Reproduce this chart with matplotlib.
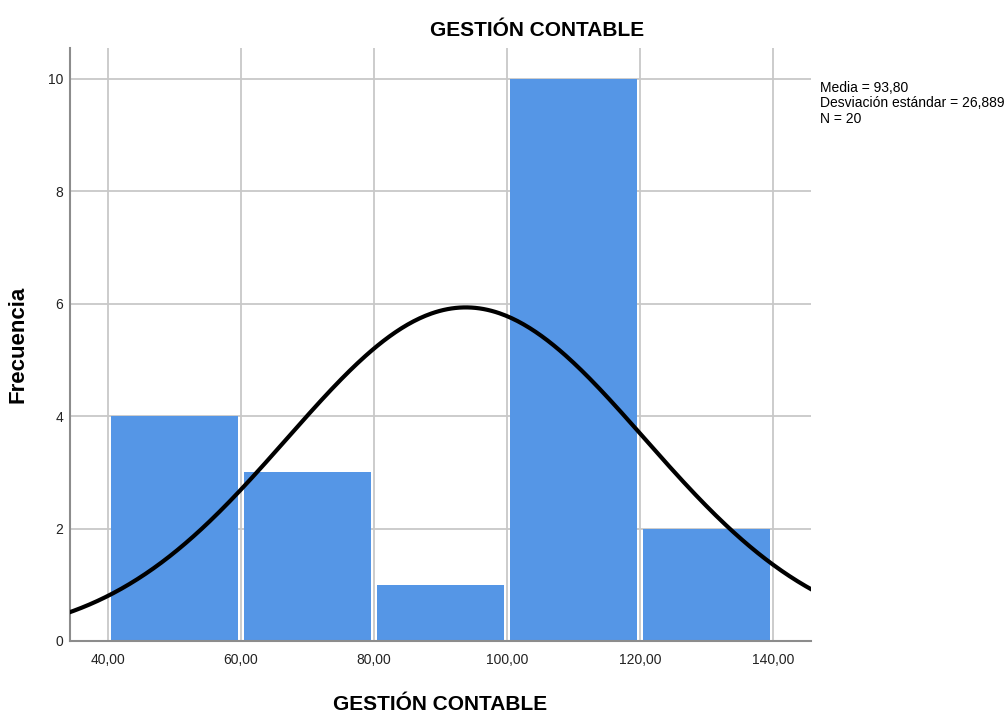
import numpy as np
import matplotlib
matplotlib.use("Agg")
from matplotlib import pyplot as plt

plt.rcParams['font.family'] = ['Liberation Sans', 'DejaVu Sans']

# datos del histograma
bin_edges = [40, 60, 80, 100, 120, 140]
counts = [4, 3, 1, 10, 2]
media = 93.80
desv = 26.889
n = 20

titulo = "GESTIÓN CONTABLE"
xticks = [40, 60, 80, 100, 120, 140]
yticks = [0, 2, 4, 6, 8, 10]

fig = plt.figure(figsize=(10.08, 7.13), dpi=100)
ax = fig.add_axes([0.0694, 0.101, 0.7352, 0.8317])

ancho = bin_edges[1] - bin_edges[0]
centros = [(bin_edges[i] + bin_edges[i + 1]) / 2 for i in range(len(counts))]
ax.bar(centros, counts, width=ancho - 0.9, color="#5596e6", edgecolor="none", zorder=2)

# curva normal escalada
xs = np.linspace(30, 150, 400)
ys = n * ancho / (desv * np.sqrt(2 * np.pi)) * np.exp(-0.5 * ((xs - media) / desv) ** 2)
ax.plot(xs, ys, color="black", lw=3, zorder=3)

ax.set_xlim(34.3, 145.7)
ax.set_ylim(0, 10.55)
ax.set_xticks(xticks)
ax.set_xticklabels([("%.2f" % v).replace(".", ",") for v in xticks])
ax.set_yticks(yticks)
ax.tick_params(length=0, labelsize=10, colors="#222222")
ax.tick_params(axis="x", pad=9)
ax.tick_params(axis="y", pad=5)
ax.grid(True, color="#c8c8c8", lw=1.3, zorder=0)
ax.set_axisbelow(True)
for s in ["top", "right"]:
    ax.spines[s].set_visible(False)
for s in ["left", "bottom"]:
    ax.spines[s].set_color("#8c8c8c")
    ax.spines[s].set_linewidth(1.5)

ax.set_xlabel(titulo, fontsize=15, fontweight="bold", labelpad=20)
ax.set_ylabel("Frecuencia", fontsize=16, fontweight="bold", labelpad=14)
fig.text(0.533, 0.957, titulo, fontsize=15, fontweight="bold", ha="center", va="center")

stats = "Media = %s\nDesviación estándar = %s\nN = %d" % (
    ("%.2f" % media).replace(".", ","), ("%.3f" % desv).replace(".", ","), n)
fig.text(0.813, 0.887, stats, fontsize=10, va="top", ha="left", linespacing=1.15)

fig.savefig("out.png", dpi=100)
